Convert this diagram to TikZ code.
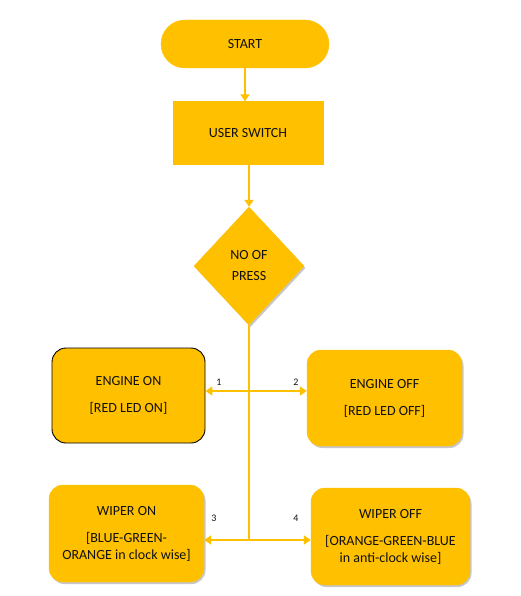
\documentclass[tikz,border=0pt]{standalone}
\usepackage{fontspec}
\setmainfont{Carlito}
\usetikzlibrary{shapes.geometric, arrows.meta, shadows}
\definecolor{amber}{HTML}{FFC000}
\definecolor{ink}{HTML}{111111}
\tikzset{
  block/.style={draw=amber, fill=amber, text=ink, align=center, inner sep=0pt,
    font=\fontsize{14}{17}\selectfont},
  shade/.style={drop shadow={shadow xshift=1.5pt, shadow yshift=-2pt, fill=black, opacity=.22}},
  state/.style={block, rounded corners=14pt},
  flow/.style={draw=amber, line width=2.6pt, -{Triangle[width=9pt,length=7pt]}},
  tag/.style={text=ink, font=\fontsize{10}{12}\selectfont},
}

\begin{document}
\begin{tikzpicture}[x=1pt, y=-1pt]
      \useasboundingbox (0,0) rectangle (521,596);
      \node[block, rounded corners=24pt, minimum width=168pt, minimum height=48pt] (start) at (245,44) {START};
      \node[block, minimum width=150pt, minimum height=63pt] (switch) at (248,133) {USER SWITCH};
      \node[block, diamond, shade, minimum width=110pt, minimum height=118pt] (press) at (249,266) {NO OF\\[4pt]PRESS};
      \node[state, draw=black, line width=0.9pt, minimum width=153pt, minimum height=95pt] (engon) at (128.5,395.5) {ENGINE ON\\[10pt][RED LED ON]};
      \node[state, shade, minimum width=155pt, minimum height=96pt] (engoff) at (384.5,398) {ENGINE OFF\\[10pt][RED LED OFF]};
      \node[state, shade, minimum width=155pt, minimum height=97pt] (wipon) at (126.5,533.5) {WIPER ON\\[10pt][BLUE-GREEN-\\ORANGE in clock wise]};
      \node[state, shade, minimum width=159pt, minimum height=97pt] (wipoff) at (390.5,536.5) {WIPER OFF\\[10pt][ORANGE-GREEN-BLUE\\in anti-clock wise]};
      \coordinate (fork) at (249,391);
      \coordinate (hub) at (249,540);
      \draw[flow] (start) -- (start |- switch.north);
      \draw[flow] (switch.south -| press) -- (press.north);
      \draw[amber, line width=2.6pt] (press.south) -- (hub);
      \draw[flow] (fork) -- (fork -| engon.east);
      \draw[flow] (fork) -- (fork -| engoff.west);
      \draw[flow] (hub) -- (hub -| wipon.east);
      \draw[flow] (hub) -- (hub -| wipoff.west);
      \node[tag] (one) at (219,382) {1};
      \node[tag] (two) at (296,382) {2};
      \node[tag] (three) at (214,518) {3};
      \node[tag] (four) at (296,518) {4};
\end{tikzpicture}
\end{document}
